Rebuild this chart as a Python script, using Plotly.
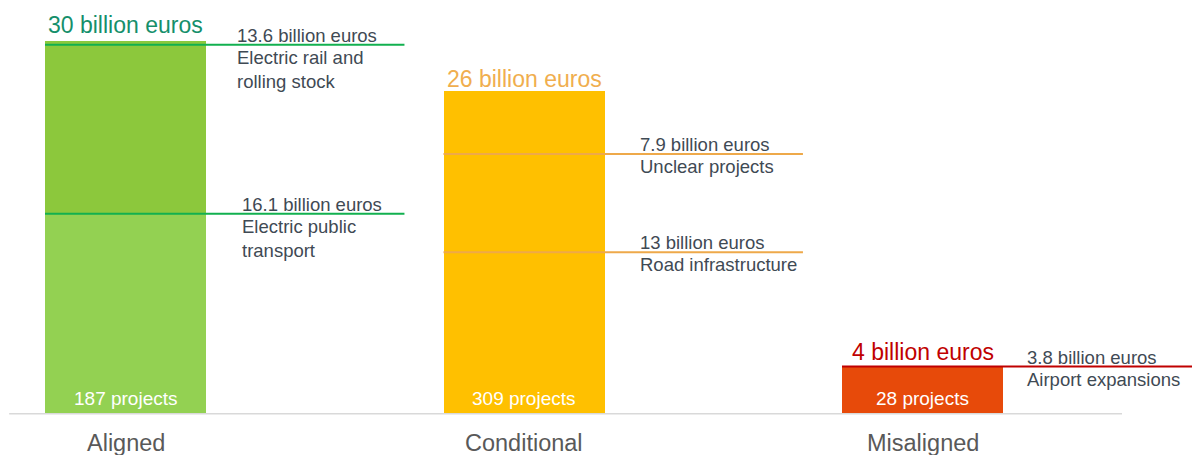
import plotly.graph_objects as go

# ---------------- data ----------------
categories = ["Aligned", "Conditional", "Misaligned"]
bar_totals = [30, 26, 3.8]                     # bar heights, billion euros
total_labels = ["30 billion euros", "26 billion euros", "4 billion euros"]
project_counts = [187, 309, 28]

# lower (lighter) part of each bar; only Aligned is two-toned
lower_part = [16.1, 26, 3.8]

# breakdown entries, listed bottom-up inside each category
seg_category = ["Aligned", "Aligned", "Conditional", "Conditional", "Misaligned"]
seg_value = [16.1, 13.6, 13, 7.9, 3.8]
seg_desc = ["Electric public<br>transport", "Electric rail and<br>rolling stock",
            "Road infrastructure", "Unclear projects", "Airport expansions"]

# ---------------- styles ----------------
FONT = "Arial"
lower_colors = ["#93D152", "#FFC000", "#E74A0A"]
upper_colors = ["#8CC83C", "#FFC000", "#E74A0A"]
line_colors = {"Aligned": "#12B04F", "Conditional": "#EEA94A", "Misaligned": "#C00000"}
total_colors = ["#158F6B", "#F0AE4E", "#C00000"]
total_yshift = [1, -3, 0]
seg_text_dx = [0.287, 0.275, 0.287, 0.287, 0.257]
TEXT = "#3F4A54"

xpos = list(range(len(categories)))
upper_part = [t - l for t, l in zip(bar_totals, lower_part)]
BAR_W = 0.404

fig = go.Figure()
fig.add_trace(go.Bar(x=xpos, y=lower_part, width=BAR_W, marker=dict(color=lower_colors, line_width=0),
                     hoverinfo="skip", showlegend=False))
fig.add_trace(go.Bar(x=xpos, y=upper_part, width=BAR_W, marker=dict(color=upper_colors, line_width=0),
                     hoverinfo="skip", showlegend=False))

annotations = []
shapes = []

# baseline
shapes.append(dict(type="line", xref="x", yref="y", x0=-0.292, x1=2.5006, y0=0, y1=0,
                   line=dict(color="#D9D9D9", width=1.5), layer="above"))

# totals, project counts, category labels
for i, cat in enumerate(categories):
    annotations.append(dict(x=i, y=bar_totals[i], xref="x", yref="y", text=total_labels[i],
                            showarrow=False, yanchor="bottom", xanchor="center",
                            yshift=total_yshift[i],
                            font=dict(family=FONT, size=23, color=total_colors[i])))
    annotations.append(dict(x=i, y=0, xref="x", yref="y", text=f"{project_counts[i]} projects",
                            showarrow=False, yanchor="bottom", xanchor="center", yshift=3,
                            font=dict(family=FONT, size=19, color="white")))
    annotations.append(dict(x=i, y=0, xref="x", yref="y", text=cat,
                            showarrow=False, yanchor="middle", xanchor="center", yshift=-29,
                            font=dict(family=FONT, size=23.5, color="#595959")))

# breakdown lines and labels
cum = {c: 0.0 for c in categories}
for k, cat in enumerate(seg_category):
    i = categories.index(cat)
    cum[cat] += seg_value[k]
    level = cum[cat]
    shapes.append(dict(type="line", xref="x", yref="y", x0=i - BAR_W / 2, x1=i + 0.7,
                       y0=level, y1=level, line=dict(color=line_colors[cat], width=2), layer="above"))
    annotations.append(dict(x=i + seg_text_dx[k], y=level, xref="x", yref="y",
                            text=f"{seg_value[k]:g} billion euros", showarrow=False,
                            xanchor="left", yanchor="bottom", yshift=-3, align="left",
                            font=dict(family=FONT, size=18.5, color=TEXT)))
    annotations.append(dict(x=i + seg_text_dx[k], y=level, xref="x", yref="y",
                            text=seg_desc[k], showarrow=False,
                            xanchor="left", yanchor="top", yshift=0, align="left",
                            font=dict(family=FONT, size=18.5, color=TEXT)))

# page body has an 8px margin: figure is 1192x447 placed at (8, 8)
PX_PER_CAT = 398.5
X0_PX = 125.5 - 8
PX_PER_UNIT = 12.42
BASE_PX = 413.7 - 8
W, H = 1192, 447

fig.update_layout(
    width=W, height=H,
    margin=dict(l=0, r=0, t=0, b=0),
    paper_bgcolor="white", plot_bgcolor="white",
    barmode="stack", bargap=0,
    xaxis=dict(range=[-X0_PX / PX_PER_CAT, (W - X0_PX) / PX_PER_CAT], visible=False, fixedrange=True),
    yaxis=dict(range=[-(H - BASE_PX) / PX_PER_UNIT, BASE_PX / PX_PER_UNIT], visible=False, fixedrange=True),
    shapes=shapes, annotations=annotations,
    font=dict(family=FONT),
)

fig.write_html("out.html", config={"displayModeBar": False})
